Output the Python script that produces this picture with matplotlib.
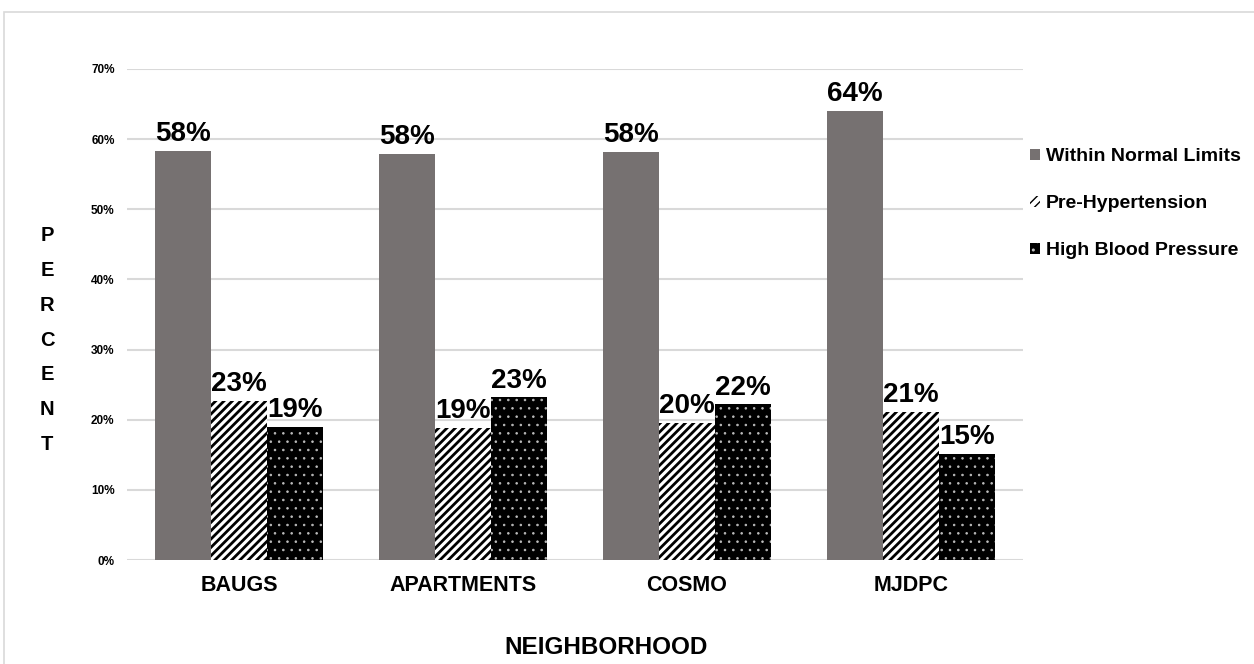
import numpy as np
import matplotlib
matplotlib.use("Agg")
import matplotlib.pyplot as plt
from matplotlib.patches import Rectangle

plt.rcParams['font.family'] = ['Liberation Sans', 'DejaVu Sans']
plt.rcParams['font.weight'] = 'bold'

barrios = ["BAUGS", "APARTMENTS", "COSMO", "MJDPC"]
series = ["Within Normal Limits", "Pre-Hypertension", "High Blood Pressure"]
normal = [0.583, 0.579, 0.582, 0.640]
pre_hip = [0.227, 0.188, 0.196, 0.211]
alta = [0.190, 0.232, 0.222, 0.151]
yticks = [0, 0.1, 0.2, 0.3, 0.4, 0.5, 0.6, 0.7]

fig = plt.figure(figsize=(12.54, 6.64), dpi=100)
ax = fig.add_axes([0.1013, 0.1566, 0.7145, 0.7395])

# marco gris del grafico
fig.patches.append(Rectangle((0.003, -0.02), 1.2, 1.0019, transform=fig.transFigure,
                             fill=False, edgecolor="#d9d9d9", lw=1.2))

x = np.arange(len(barrios))
ancho = 0.25

b1 = ax.bar(x - ancho, normal, ancho, color="#767171", lw=0, label=series[0])
with plt.rc_context({'hatch.linewidth': 2.0}):
    b2 = ax.bar(x, pre_hip, ancho, color="white", edgecolor="black", lw=0,
                hatch="////", label=series[1])
with plt.rc_context({'hatch.linewidth': 0.6}):
    b3 = ax.bar(x + ancho, alta, ancho, color="black", edgecolor="#bdbdbd", lw=0,
                hatch="..", label=series[2])

for barras, vals in [(b1, normal), (b2, pre_hip), (b3, alta)]:
    for p, v in zip(barras, vals):
        ax.annotate(f"{round(v * 100):.0f}%", (p.get_x() + p.get_width() / 2, v),
                    xytext=(0, 7), textcoords="offset points", ha="center",
                    va="baseline", fontsize=20, fontweight="bold")

ax.set_xlim(-0.5, 3.5)
ax.set_ylim(0, 0.7)
ax.set_yticks(yticks)
ax.set_yticklabels([f"{int(round(t * 100))}%" for t in yticks], fontsize=8.5,
                   fontweight="bold")
ax.set_xticks(x)
ax.set_xticklabels(barrios, fontsize=15.5, fontweight="bold")
ax.tick_params(axis="both", length=0)
ax.tick_params(axis="y", pad=9)
ax.tick_params(axis="x", pad=11)
ax.grid(axis="y", color="#d9d9d9", lw=1.5)
ax.set_axisbelow(True)
for s in ax.spines.values():
    s.set_visible(False)

fig.text(606 / 1254, 1 - 648 / 664, "NEIGHBORHOOD", ha="center", va="center",
         fontsize=17.5, fontweight="bold")
fig.text(47 / 1254, 1 - 340 / 664, "\n".join("PERCENT"), ha="center", va="center",
         fontsize=14.5, fontweight="bold", linespacing=2.05)

fig.legend(handles=[b1, b2, b3], labels=series, loc="upper left",
           bbox_to_anchor=(1030 / 1254, 1 - 148 / 664), frameon=False,
           prop={"weight": "bold", "size": 14},
           handlelength=0.5, handleheight=0.5, handletextpad=0.3,
           labelspacing=1.55, borderpad=0, borderaxespad=0)

fig.savefig("out.png", dpi=100)
